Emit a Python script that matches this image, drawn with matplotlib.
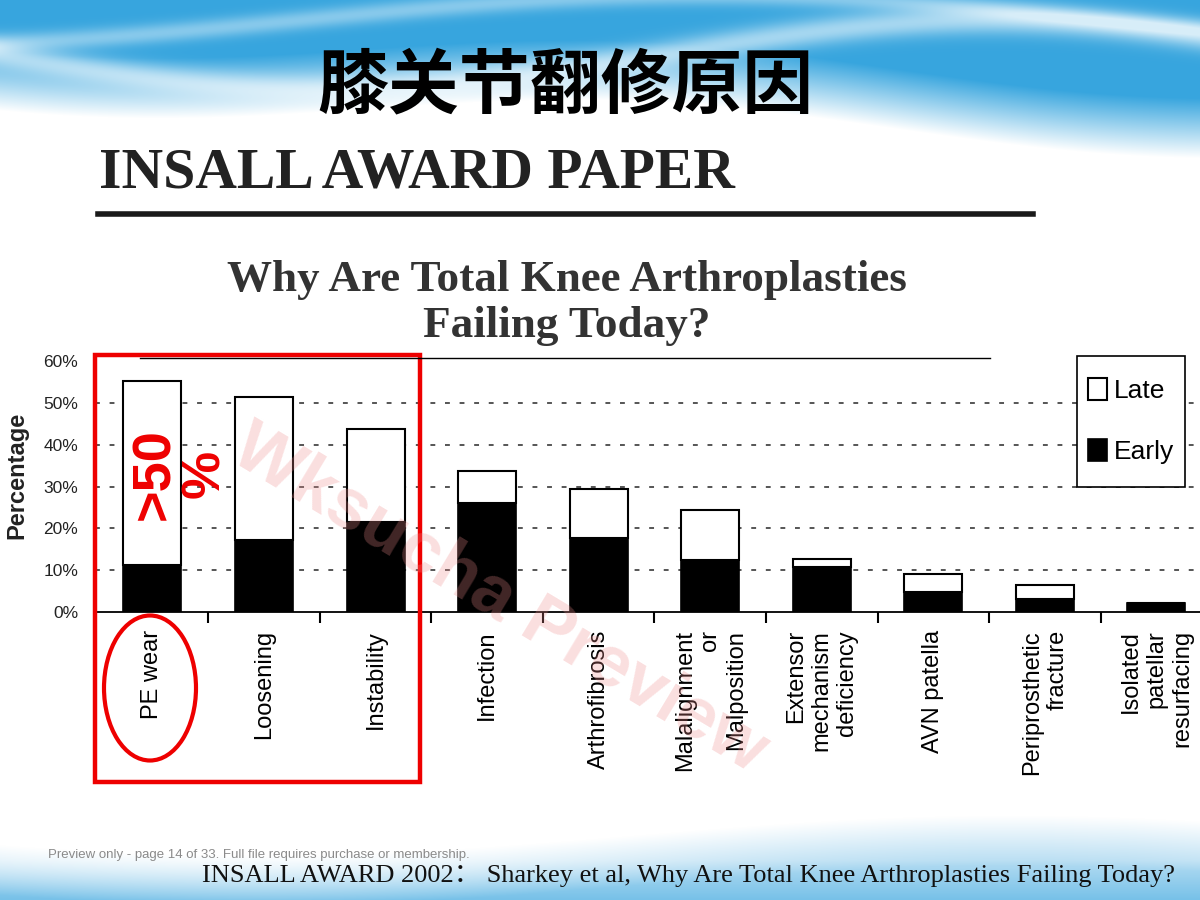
import numpy as np
import matplotlib.pyplot as plt
from matplotlib.patches import Rectangle, Ellipse
from matplotlib.lines import Line2D

# datos (porcentaje de revisiones)
causas = ['PE wear', 'Loosening', 'Instability', 'Infection', 'Arthrofibrosis',
          'Malalignment\nor\nMalposition', 'Extensor\nmechanism\ndeficiency',
          'AVN patella', 'Periprosthetic\nfracture', 'Isolated\npatellar\nresurfacing']
total = [55.2, 51.4, 43.8, 33.6, 29.5, 24.5, 12.6, 9.0, 6.4, 2.1]
early = [11.2, 17.1, 21.4, 26.0, 17.6, 12.4, 10.7, 4.8, 3.1, 2.1]
late = [t - e for t, e in zip(total, early)]
yticks = [0, 10, 20, 30, 40, 50, 60]

W, H = 1200, 900


def px(x, y):
    # pixeles -> fraccion de figura
    return x / W, 1 - y / H


fig = plt.figure(figsize=(12, 9), dpi=100)

# fondo con ondas azules arriba y abajo
yy, xx = np.mgrid[0:H, 0:W].astype(float)
blue_dark = np.array([55, 165, 222]) / 255
blue_light = np.array([180, 220, 242]) / 255
bg = np.ones((H, W, 3))
borde = 95 + 45 * (xx / W) + 18 * np.sin(xx / 170 + 1.0)
t = np.clip((borde - yy) / 60, 0, 1)
vetas = 0.55 * np.exp(-((yy - (55 + 35 * np.sin(xx / 210))) / 14) ** 2) \
    + 0.4 * np.exp(-((yy - (20 + 25 * np.sin(xx / 260 + 2))) / 10) ** 2)
vetas = np.clip(vetas, 0, 0.8)
col_top = blue_dark * (1 - vetas[..., None]) + vetas[..., None]
bg = bg * (1 - t[..., None]) + col_top * t[..., None]
borde_b = 835 + 20 * np.sin(xx / 240 + 0.5)
tb = np.clip((yy - borde_b) / 50, 0, 1)
mezcla = 0.5 * np.clip((yy - 860) / 40, 0, 1)[..., None]
col_bot = blue_light * (1 - mezcla) + blue_dark * mezcla
bg = bg * (1 - tb[..., None]) + col_bot * tb[..., None]

ax_bg = fig.add_axes([0, 0, 1, 1])
ax_bg.imshow(bg, aspect='auto', extent=[0, W, H, 0])
ax_bg.axis('off')

# textos del encabezado
fig.text(*px(565, 86), '膝关节翻修原因', family=['Noto Sans CJK SC', 'DejaVu Sans'],
         fontsize=51, fontweight='bold', ha='center', va='center')
fig.text(*px(99, 173), 'INSALL AWARD PAPER', family='Liberation Serif',
         fontsize=41.5, fontweight='bold', ha='left', va='center', color='#222222')
fig.add_artist(Line2D([98 / W, 1033 / W], [1 - 214 / H] * 2, color='#1a1a1a', lw=4))
fig.text(*px(567, 280), 'Why Are Total Knee Arthroplasties', family='Liberation Serif',
         fontsize=32.5, fontweight='bold', ha='center', va='center', color='#333333')
fig.text(*px(567, 326), 'Failing Today?', family='Liberation Serif',
         fontsize=32.5, fontweight='bold', ha='center', va='center', color='#333333')
fig.add_artist(Line2D([140 / W, 990 / W], [1 - 358 / H] * 2, color='black', lw=1))

# grafico de barras apiladas
x0, y0 = px(95, 612)
ax = fig.add_axes([x0, y0, 1 - x0, (612 - 361) / H])
ax.set_facecolor('none')
pos = np.arange(len(causas))
ancho = 0.52
for yv in yticks[1:-1]:
    ax.axhline(yv, color='#555555', lw=1.4, ls=(0, (2.5, 5)), zorder=0)
b_early = ax.bar(pos, early, width=ancho, color='black', edgecolor='black',
                 lw=1.2, label='Early', zorder=2)
b_late = ax.bar(pos, late, bottom=early, width=ancho, color='white',
                edgecolor='black', lw=1.5, label='Late', zorder=2)
ax.set_xlim(-0.515, 9.39)
ax.set_ylim(0, 60)
ax.set_yticks(yticks)
ax.set_yticklabels([f'{v}%' for v in yticks], family='Liberation Sans',
                   fontsize=12.5, color='#222222')
ax.tick_params(axis='y', length=0, pad=12)
ax.set_xticks(pos)
ax.set_xticklabels(causas, rotation=90, va='top', ha='center',
                   multialignment='right', family='Liberation Sans', fontsize=17)
ax.set_xticks(pos[:-1] + 0.5, minor=True)
ax.tick_params(axis='x', which='major', length=0, pad=13)
ax.tick_params(axis='x', which='minor', length=8, width=1.5, direction='out')
for s in ['top', 'right', 'left']:
    ax.spines[s].set_visible(False)
ax.spines['bottom'].set_linewidth(1.3)

fig.text(*px(17, 475), 'Percentage', rotation=90, family='Liberation Sans',
         fontsize=17, fontweight='bold', ha='center', va='center', color='#222222')

# caja de la leyenda
fig.add_artist(Rectangle(px(1077, 487), 108 / W, 131 / H, facecolor='white',
                         edgecolor='black', lw=1.2, zorder=1))
leg = fig.legend([b_late, b_early], ['Late', 'Early'], loc='center left',
                 bbox_to_anchor=px(1077, 421), prop={'family': 'Liberation Sans', 'size': 19},
                 frameon=False, labelspacing=1.35,
                 handlelength=0.75, handleheight=0.9, handletextpad=0.25,
                 borderpad=0.4, borderaxespad=0)

# marcas rojas
rojo = '#ee0000'
fig.add_artist(Rectangle(px(95, 782), 325 / W, 427 / H, fill=False,
                         edgecolor=rojo, lw=3.2))
fig.add_artist(Ellipse(px(150, 688), 92 / W, 145 / H, fill=False,
                       edgecolor=rojo, lw=3))
fig.text(*px(180, 474), '>50\n%', rotation=90, color=rojo, family='Liberation Sans',
         fontsize=39, fontweight='bold', ha='center', va='center',
         multialignment='center', linespacing=1.0)

# marca de agua
fig.text(*px(500, 600), 'Wksucha Preview', rotation=-31, color='#f08c8c', alpha=0.28,
         family='Liberation Sans', fontsize=52, fontweight='bold',
         ha='center', va='center', rotation_mode='anchor')

# pie de pagina
fig.text(*px(48, 855), 'Preview only - page 14 of 33. Full file requires purchase or membership.',
         family='Liberation Sans', fontsize=9.5, color='#8a8a8a', ha='left', va='center')
fig.text(*px(1175, 876), 'INSALL AWARD 2002： Sharkey et al, Why Are Total Knee Arthroplasties Failing Today?',
         family=['Liberation Serif', 'Noto Sans CJK SC'], fontsize=19, color='#111111',
         ha='right', va='center')

plt.savefig('out.png', dpi=100)
